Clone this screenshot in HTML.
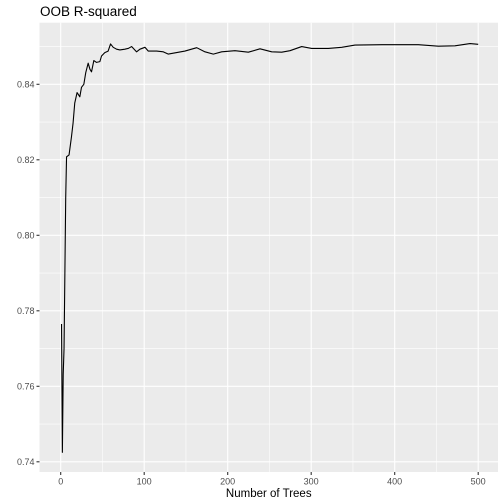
<!DOCTYPE html>
<html><head><meta charset="utf-8"><style>
html,body{margin:0;padding:0;background:#fff;}
svg{display:block;font-family:"Liberation Sans",Arial,sans-serif;}
</style></head><body>
<svg id="chart" width="504" height="504">
<text x="40" y="16" font-size="13.5" fill="#000">OOB R-squared</text>
<rect x="39.5" y="22.7" width="458.5" height="449.3" fill="#EBEBEB"/>
<g id="grid"></g>
<g id="axes"></g>
<path id="line" fill="none" stroke="#000" stroke-width="1.1" stroke-linejoin="round"/>
<text x="268.75" y="497" font-size="11.5" fill="#000" text-anchor="middle">Number of Trees</text>
</svg>
<script>
const trees = [1,2,3,4,5,6,7,10,12.9,14.8,16.8,19.6,22.9,24.9,27.7,30,32.9,35,36.9,39.7,42.9,46.9,48.9,52.8,56.8,59.7,62.9,66.9,70.9,76.9,80.9,84.9,90.9,94.9,100.9,104.9,114.9,122.9,128.9,138.9,148.8,162.9,172.8,182.8,192.8,208.7,224.7,238.7,252.7,264.7,274.6,288.6,300.6,320.5,336.5,352.5,388.4,428.3,452.3,472.2,490.2,500];
const r2 = [0.7765,0.7425,0.7632,0.7700,0.7900,0.8100,0.8208,0.8213,0.8261,0.8297,0.835,0.8378,0.8367,0.8392,0.840,0.8431,0.8456,0.844,0.8433,0.8463,0.8458,0.846,0.8475,0.8484,0.8488,0.8507,0.8498,0.8493,0.8491,0.8493,0.8495,0.850,0.8486,0.8493,0.8498,0.8488,0.8488,0.8486,0.848,0.8484,0.8488,0.8497,0.8486,0.848,0.8486,0.8489,0.8485,0.8494,0.8486,0.8485,0.8489,0.850,0.8495,0.8495,0.8498,0.8504,0.8505,0.8505,0.8501,0.8502,0.8508,0.8506];
const xTicks = [0,100,200,300,400,500];
const yTicks = [0.74,0.76,0.78,0.80,0.82,0.84];
const xMinor = [50,150,250,350,450];
const yMinor = [0.75,0.77,0.79,0.81,0.83,0.85];

const L=39.5,R=498,T=22.7,B=472;
function xs(t){return 60.7+t*0.835;}
function ys(v){return 84.3+(0.84-v)*3775;}
const NS="http://www.w3.org/2000/svg";
const grid=document.getElementById('grid'), axes=document.getElementById('axes');
function ln(p,x1,y1,x2,y2,c,w){const e=document.createElementNS(NS,'line');e.setAttribute('x1',x1);e.setAttribute('y1',y1);e.setAttribute('x2',x2);e.setAttribute('y2',y2);e.setAttribute('stroke',c);e.setAttribute('stroke-width',w);p.appendChild(e);return e;}
xMinor.forEach(t=>{const e=ln(grid,xs(t),T,xs(t),B,'#fff',0.55);

});
yMinor.forEach(v=>{const e=ln(grid,L,ys(v),R,ys(v),'#fff',0.55);

});
xTicks.forEach(t=>{const x=xs(t);const g=ln(grid,x,T,x,B,'#fff',1.1);


const k=ln(axes,x,B,x,B+3,'#333',1.1);


const tx=document.createElementNS(NS,'text');tx.setAttribute('x',x);tx.setAttribute('y',B+12.5);tx.setAttribute('font-size','9');tx.setAttribute('fill','#4D4D4D');tx.setAttribute('text-anchor','middle');tx.textContent=t;


axes.appendChild(tx);});
yTicks.forEach(v=>{const y=ys(v);const g=ln(grid,L,y,R,y,'#fff',1.1);


const k=ln(axes,L-3,y,L,y,'#333',1.1);


const tx=document.createElementNS(NS,'text');tx.setAttribute('x',L-5);tx.setAttribute('y',y+3.2);tx.setAttribute('font-size','9');tx.setAttribute('fill','#4D4D4D');tx.setAttribute('text-anchor','end');tx.textContent=v.toFixed(2);


axes.appendChild(tx);});
document.getElementById('line').setAttribute('d',trees.map((t,i)=>(i?'L':'M')+xs(t).toFixed(2)+','+ys(r2[i]).toFixed(2)).join(''));
</script>
</body></html>
